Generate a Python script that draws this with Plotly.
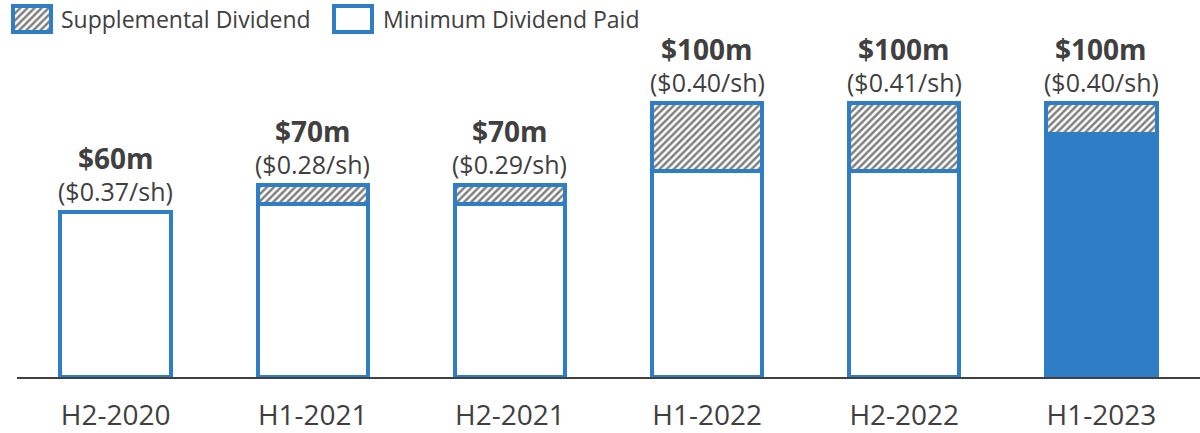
import plotly.graph_objects as go

categories = ["H2-2020", "H1-2021", "H2-2021", "H1-2022", "H2-2022", "H1-2023"]
minimum_paid = [60, 63, 63, 75, 75, 88.5]
supplemental = [0, 7, 7, 25, 25, 11.5]
total_labels = ["$60m", "$70m", "$70m", "$100m", "$100m", "$100m"]
per_share_labels = ["($0.37/sh)", "($0.28/sh)", "($0.29/sh)", "($0.40/sh)", "($0.41/sh)", "($0.40/sh)"]
min_fill = ["white", "white", "white", "white", "white", "#2E7DC5"]
legend_names = ["Supplemental Dividend", "Minimum Dividend Paid"]

BLUE = "#2E7DC5"
TEXT = "#404040"
FONT = "Open Sans"
W, H = 1200, 433
HATCH = dict(shape="/", fgcolor="#000000", bgcolor="white", size=5, solidity=0.5)

fig = go.Figure()
fig.add_trace(go.Bar(
    x=categories, y=minimum_paid, name=legend_names[1], showlegend=False,
    marker=dict(color=min_fill, line=dict(color=BLUE, width=4)),
))
fig.add_trace(go.Bar(
    x=categories, y=[v if v > 0 else None for v in supplemental], name=legend_names[0],
    showlegend=False,
    marker=dict(color="white", line=dict(color=BLUE, width=4), pattern=HATCH),
))

# value labels above each stack
for c, m, s, t, p in zip(categories, minimum_paid, supplemental, total_labels, per_share_labels):
    fig.add_annotation(x=c, y=m + s, text=f"<b>{t}</b>", showarrow=False,
                       yanchor="middle", yshift=54, font=dict(family=FONT, size=28, color=TEXT))
    fig.add_annotation(x=c, y=m + s, text=p, showarrow=False,
                       yanchor="middle", yshift=21, font=dict(family=FONT, size=25, color=TEXT))

# custom legend: swatches drawn as bars in a small inset axis
fig.add_trace(go.Bar(
    x=[31.5], y=[27], base=[7], width=[38], xaxis="x2", yaxis="y2", showlegend=False,
    hoverinfo="skip", marker=dict(color="white", line=dict(color=BLUE, width=4), pattern=HATCH),
))
fig.add_trace(go.Bar(
    x=[352.5], y=[27], base=[7], width=[38], xaxis="x2", yaxis="y2", showlegend=False,
    hoverinfo="skip", marker=dict(color="white", line=dict(color=BLUE, width=4)),
))
fig.add_annotation(xref="paper", yref="paper", x=59 / W, y=1 - 20 / H, text=legend_names[0],
                   xanchor="left", yanchor="middle", showarrow=False,
                   font=dict(family=FONT, size=23, color=TEXT))
fig.add_annotation(xref="paper", yref="paper", x=381 / W, y=1 - 20 / H, text=legend_names[1],
                   xanchor="left", yanchor="middle", showarrow=False,
                   font=dict(family=FONT, size=23, color=TEXT))

fig.update_layout(
    width=W, height=H, barmode="stack", bargap=0.44,
    margin=dict(l=0, r=0, t=0, b=0),
    plot_bgcolor="white", paper_bgcolor="white",
    font=dict(family=FONT, color=TEXT),
    showlegend=False,
    xaxis=dict(domain=[17 / W, 1], showline=True, linecolor="#404040", linewidth=2, ticks="",
               ticklabelstandoff=12, tickfont=dict(family=FONT, size=28, color=TEXT),
               fixedrange=True),
    yaxis=dict(domain=[44 / H, 1 - 35 / H], visible=False, range=[0, 125], fixedrange=True),
    xaxis2=dict(domain=[0, 400 / W], range=[0, 400], visible=False, anchor="y2", fixedrange=True),
    yaxis2=dict(domain=[1 - 40 / H, 1], range=[0, 40], visible=False, anchor="x2", fixedrange=True),
)

fig.write_html("out.html", config={"displayModeBar": False},
               post_script="document.body.style.margin='0';")
